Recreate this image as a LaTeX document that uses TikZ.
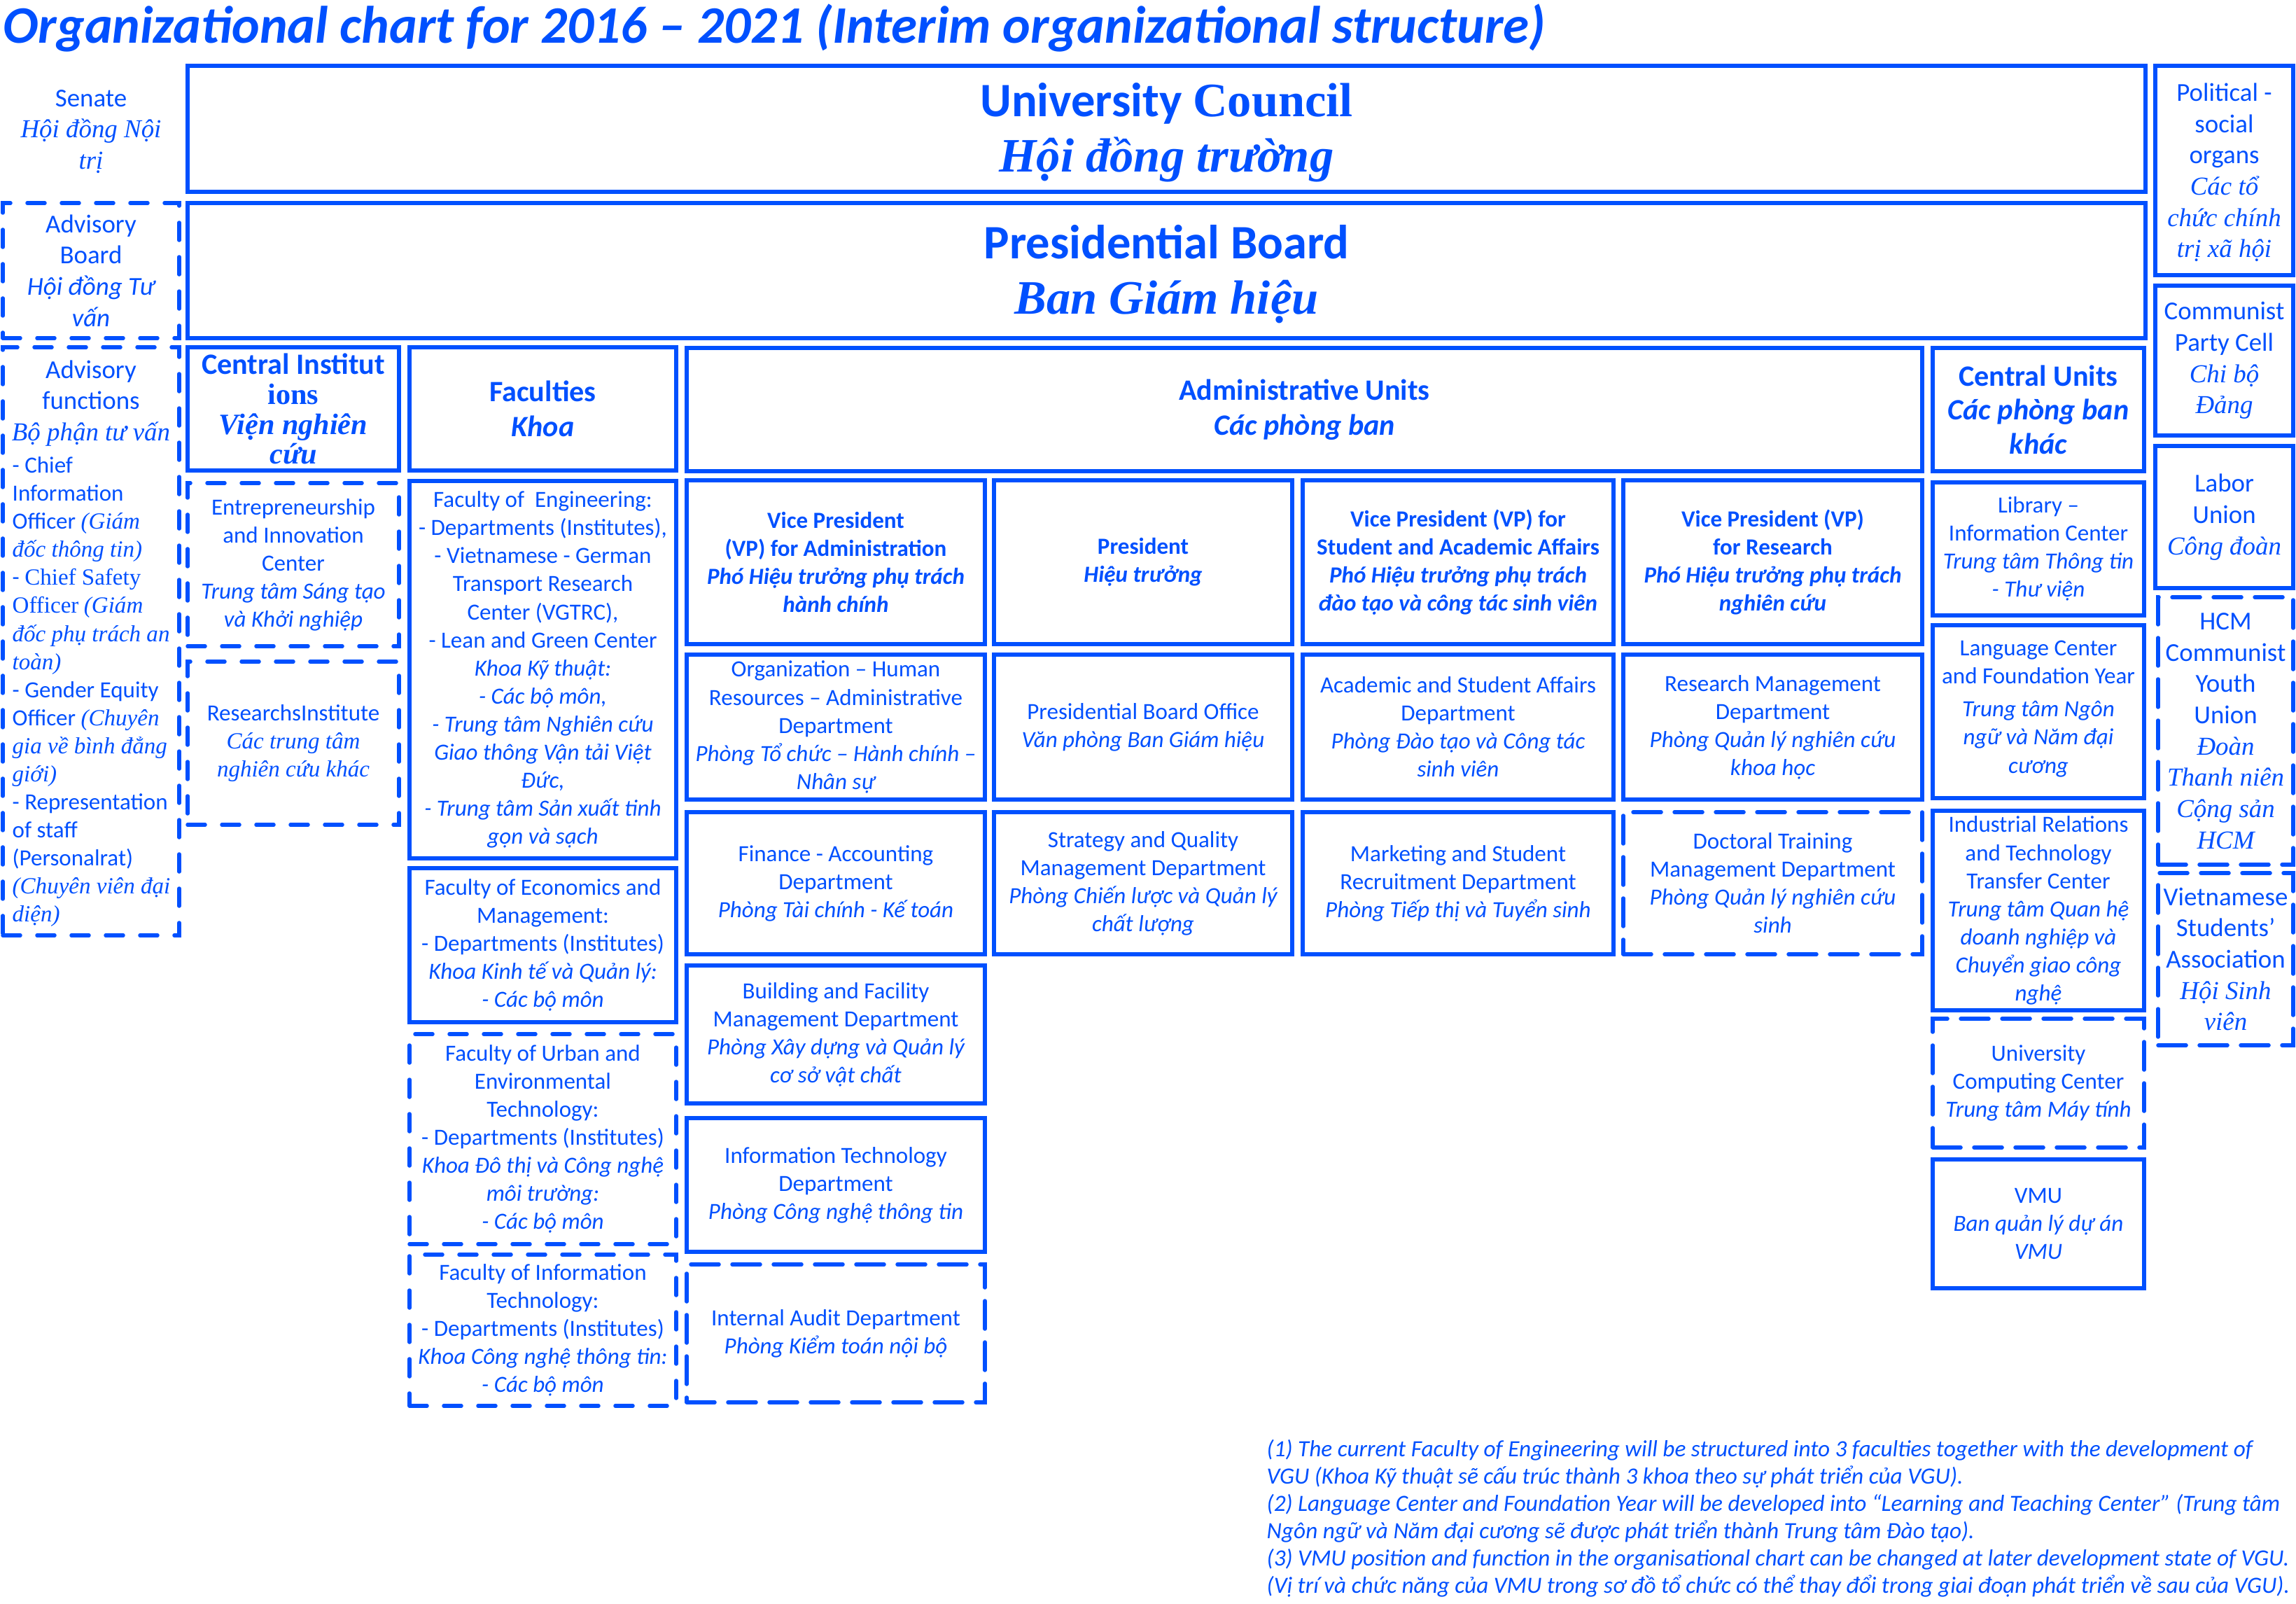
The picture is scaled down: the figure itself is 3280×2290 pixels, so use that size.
\documentclass[tikz,border=0pt]{standalone}
\usepackage{fontspec}
\setmainfont{Carlito}
\newfontfamily\tnr{Liberation Serif}
\usetikzlibrary{fit}
\definecolor{vb}{RGB}{0,80,255}
\newcommand\itl[1]{{\itshape #1}}
\newcommand\tni[1]{{\tnr\itshape #1}}
\newcommand\tnu[1]{{\tnr #1}}
\tikzset{
  sbox/.style={draw=vb, line width=0.55mm, inner sep=0pt},
  dboxa/.style={draw=vb, line width=0.55mm, inner sep=0pt, dash pattern=on 2.5mm off 2.4mm, line cap=round},
  dboxb/.style={draw=vb, line width=0.55mm, inner sep=0pt, dash pattern=on 4.0mm off 1.9mm, line cap=round},
  tx/.style={text=vb, align=center, inner sep=0pt, font=\fontsize{9.4}{11.4}\selectfont},
  txb/.style={tx, font=\fontsize{9.4}{11.4}\selectfont\bfseries},
  txm/.style={text=vb, align=center, inner sep=0pt, font=\fontsize{10.5}{12.7}\selectfont},
  txh/.style={text=vb, align=center, inner sep=0pt, font=\fontsize{12}{14.2}\selectfont\bfseries},
  txl/.style={text=vb, align=center, inner sep=0pt, font=\fontsize{19.5}{22.6}\selectfont\bfseries},
  fn/.style={text=vb, anchor=base west, inner sep=0pt, font=\fontsize{9.45}{11.2}\selectfont\itshape},
}
\begin{document}
\begin{tikzpicture}[x=0.1mm, y=-0.1mm]
\useasboundingbox (0,0) rectangle (3280,2290);

% title
\node[anchor=base west, inner sep=0pt, text=vb, font=\fontsize{21.4}{24}\selectfont\bfseries\itshape] (title) at (4,62)
  {Organizational chart for 2016 – 2021 (Interim organizational structure)};

% top rows
\node[txm] (senate) at (130,188) {Senate\\\tni{Hội đồng Nội}\\\tni{trị}};
\node[sbox, fit={(268,94) (3065,274)}] (uc) {};
\node[txl] (uc-t) at ([yshift=-0.5mm]uc.center) {University \tnu{Council}\\\tni{Hội đồng trường}};
\node[sbox, fit={(268,290) (3065,483)}] (pb) {};
\node[txl] (pb-t) at ([yshift=-0.5mm]pb.center) {Presidential Board\\\tni{Ban Giám hiệu}};
\node[dboxa, fit={(4,290) (256,483)}] (ab) {};
\node[txm] (ab-t) at (ab.center) {Advisory\\Board\\\itl{Hội đồng Tư}\\\itl{vấn}};

% advisory functions
\node[dboxa, fit={(4,496) (256,1336)}] (af) {};
\node[txm, anchor=north] (af-h) at (130,514) {Advisory\\functions\\\tni{Bộ phận tư vấn}};
\node[tx, align=left, anchor=north west] (af-b) at (17,652) {- Chief\\
Information\\
Officer \tni{(Giám}\\
\tni{đốc thông tin)}\\
- \tnu{Chief Safety}\\
\tnu{Officer} \tni{(Giám}\\
\tni{đốc phụ trách an}\\
\tni{toàn)}\\
- Gender Equity\\
Officer \tni{(Chuyên}\\
\tni{gia về bình đẳng}\\
\tni{giới)}\\
- Representation\\
of staff\\
(Personalrat)\\
\tni{(Chuyên viên đại}\\
\tni{diện)}};

% central institutions
\node[sbox, fit={(268,496) (570,672)}] (ci) {};
\node[txh, font=\fontsize{12}{12.2}\selectfont\bfseries] (ci-t) at (ci.center) {Central Institut\\\tnu{ions}\\\tni{Viện nghiên}\\\tni{cứu}};
\node[dboxa, fit={(268,690) (570,923)}] (ei) {};
\node[tx] (ei-t) at (ei.center) {Entrepreneurship\\and Innovation\\Center\\\itl{Trung tâm Sáng tạo}\\\itl{và Khởi nghiệp}};
\node[dboxa, fit={(268,945) (570,1178)}] (ri) {};
\node[tx] (ri-t) at (ri.center) {ResearchsInstitute\\\tni{Các trung tâm}\\\tni{nghiên cứu khác}};

% faculties
\node[sbox, fit={(585,496) (966,672)}] (fa) {};
\node[txh] (fa-t) at (fa.center) {Faculties\\\itl{Khoa}};
\node[sbox, fit={(585,687) (966,1226)}] (fe) {};
\node[tx] (fe-t) at (fe.center) {Faculty of~~Engineering:\\- Departments (Institutes),\\- Vietnamese - German\\Transport Research\\Center (VGTRC),\\- Lean and Green Center\\\itl{Khoa Kỹ thuật:}\\\itl{- Các bộ môn,}\\\itl{- Trung tâm Nghiên cứu}\\\itl{Giao thông Vận tải Việt}\\\itl{Đức,}\\\itl{- Trung tâm Sản xuất tinh}\\\itl{gọn và sạch}};
\node[sbox, fit={(585,1240) (966,1460)}] (fm) {};
\node[tx] (fm-t) at (fm.center) {Faculty of Economics and\\Management:\\- Departments (Institutes)\\\itl{Khoa Kinh tế và Quản lý:}\\\itl{- Các bộ môn}};
\node[dboxa, fit={(585,1477) (966,1777)}] (fu) {};
\node[tx] (fu-t) at (fu.center) {Faculty of Urban and\\Environmental\\Technology:\\- Departments (Institutes)\\\itl{Khoa Đô thị và Công nghệ}\\\itl{môi trường:}\\\itl{- Các bộ môn}};
\node[dboxa, fit={(585,1792) (966,2008)}] (fi) {};
\node[tx] (fi-t) at (fi.center) {Faculty of Information\\Technology:\\- Departments (Institutes)\\\itl{Khoa Công nghệ thông tin:}\\\itl{- Các bộ môn}};

% administrative units
\node[sbox, fit={(981,497) (2746,673)}] (au) {};
\node[txh] (au-t) at (au.center) {Administrative Units\\\itl{Các phòng ban}};
\node[sbox, fit={(981,686) (1407,920)}] (vpa) {};
\node[txb] (vpa-t) at (vpa.center) {Vice President\\(VP) for Administration\\\itl{Phó Hiệu trưởng phụ trách}\\\itl{hành chính}};
\node[sbox, fit={(1420,686) (1846,920)}] (pr) {};
\node[txb] (pr-t) at (pr.center) {President\\\itl{Hiệu trưởng}};
\node[sbox, fit={(1861,686) (2305,920)}] (vps) {};
\node[txb] (vps-t) at (vps.center) {Vice President (VP) for\\Student and Academic Affairs\\\itl{Phó Hiệu trưởng phụ trách}\\\itl{đào tạo và công tác sinh viên}};
\node[sbox, fit={(2319,686) (2746,920)}] (vpr) {};
\node[txb] (vpr-t) at (vpr.center) {Vice President (VP)\\for Research\\\itl{Phó Hiệu trưởng phụ trách}\\\itl{nghiên cứu}};

\node[sbox, fit={(981,935) (1407,1142)}] (ohr) {};
\node[tx] (ohr-t) at (ohr.center) {Organization – Human\\Resources – Administrative\\Department\\\itl{Phòng Tổ chức – Hành chính –}\\\itl{Nhân sự}};
\node[sbox, fit={(1420,935) (1846,1142)}] (pbo) {};
\node[tx] (pbo-t) at (pbo.center) {Presidential Board Office\\\itl{Văn phòng Ban Giám hiệu}};
\node[sbox, fit={(1861,935) (2305,1142)}] (asa) {};
\node[tx] (asa-t) at (asa.center) {Academic and Student Affairs\\Department\\\itl{Phòng Đào tạo và Công tác}\\\itl{sinh viên}};
\node[sbox, fit={(2319,935) (2746,1142)}] (rmd) {};
\node[tx] (rmd-t) at (rmd.center) {Research Management\\Department\\\itl{Phòng Quản lý nghiên cứu}\\\itl{khoa học}};

\node[sbox, fit={(981,1160) (1407,1363)}] (fin) {};
\node[tx] (fin-t) at (fin.center) {Finance - Accounting\\Department\\\itl{Phòng Tài chính - Kế toán}};
\node[sbox, fit={(1420,1160) (1846,1363)}] (sqm) {};
\node[tx] (sqm-t) at (sqm.center) {Strategy and Quality\\Management Department\\\itl{Phòng Chiến lược và Quản lý}\\\itl{chất lượng}};
\node[sbox, fit={(1861,1160) (2305,1363)}] (msr) {};
\node[tx] (msr-t) at (msr.center) {Marketing and Student\\Recruitment Department\\\itl{Phòng Tiếp thị và Tuyển sinh}};
\node[dboxb, fit={(2319,1160) (2746,1363)}] (dtm) {};
\node[tx] (dtm-t) at (dtm.center) {Doctoral Training\\Management Department\\\itl{Phòng Quản lý nghiên cứu}\\\itl{sinh}};

\node[sbox, fit={(981,1379) (1407,1576)}] (bfm) {};
\node[tx] (bfm-t) at (bfm.center) {Building and Facility\\Management Department\\\itl{Phòng Xây dựng và Quản lý}\\\itl{cơ sở vật chất}};
\node[sbox, fit={(981,1597) (1407,1788)}] (itd) {};
\node[tx] (itd-t) at (itd.center) {Information Technology\\Department\\\itl{Phòng Công nghệ thông tin}};
\node[dboxb, fit={(981,1806) (1407,2003)}] (iad) {};
\node[tx] (iad-t) at (iad.center) {Internal Audit Department\\\itl{Phòng Kiểm toán nội bộ}};

% central units
\node[sbox, fit={(2761,497) (3063,673)}] (cu) {};
\node[txh, font=\fontsize{12}{13.8}\selectfont\bfseries] (cu-t) at (cu.center) {Central Units\\\itl{Các phòng ban}\\\itl{khác}};
\node[sbox, fit={(2761,689) (3063,879)}] (lib) {};
\node[tx] (lib-t) at (lib.center) {Library –\\Information Center\\\itl{Trung tâm Thông tin}\\\itl{- Thư viện}};
\node[sbox, fit={(2761,893) (3063,1140)}] (lcf) {};
\node[tx] (lcf-t) at ([yshift=0.4mm]lcf.center) {Language Center\\and Foundation Year\\[2pt]\itl{Trung tâm Ngôn}\\\itl{ngữ và Năm đại}\\\itl{cương}};
\node[sbox, fit={(2761,1158) (3063,1443)}] (irt) {};
\node[tx] (irt-t) at (irt.center) {Industrial Relations\\and Technology\\Transfer Center\\\itl{Trung tâm Quan hệ}\\\itl{doanh nghiệp và}\\\itl{Chuyển giao công}\\\itl{nghệ}};
\node[dboxb, fit={(2761,1455) (3063,1639)}] (ucc) {};
\node[tx] (ucc-t) at (ucc.center) {University\\Computing Center\\\itl{Trung tâm Máy tính}};
\node[sbox, fit={(2761,1656) (3063,1840)}] (vmu) {};
\node[tx] (vmu-t) at (vmu.center) {VMU\\\itl{Ban quản lý dự án}\\\itl{VMU}};

% right column
\node[sbox, fit={(3079,94) (3276,393)}] (pso) {};
\node[txm] (pso-t) at ([yshift=-0.3mm]pso.center) {Political -\\social\\organs\\\tni{Các tổ}\\\tni{chức chính}\\\tni{trị xã hội}};
\node[sbox, fit={(3079,408) (3276,622)}] (cpc) {};
\node[txm] (cpc-t) at (cpc.center) {Communist\\Party Cell\\\tni{Chi bộ}\\\tni{Đảng}};
\node[sbox, fit={(3079,637) (3276,840)}] (lu) {};
\node[txm] (lu-t) at (lu.center) {Labor\\Union\\\tni{Công đoàn}};
\node[dboxb, fit={(3083,853) (3276,1235)}] (hcm) {};
\node[txm] (hcm-t) at (hcm.center) {HCM\\Communist\\Youth\\Union\\\tni{Đoàn}\\\tni{Thanh niên}\\\tni{Cộng sản}\\\tni{HCM}};
\node[dboxb, fit={(3083,1247) (3276,1493)}] (vsa) {};
\node[txm] (vsa-t) at (vsa.center) {Vietnamese\\Students’\\Association\\\tni{Hội Sinh}\\\tni{viên}};

% footnotes
\node[fn] (fn1) at (1809,2080) {(1) The current Faculty of Engineering will be structured into 3 faculties together with the development of};
\node[fn] (fn2) at (1809,2119) {VGU (Khoa Kỹ thuật sẽ cấu trúc thành 3 khoa theo sự phát triển của VGU).};
\node[fn] (fn3) at (1809,2158) {(2) Language Center and Foundation Year will be developed into “Learning and Teaching Center” (Trung tâm};
\node[fn] (fn4) at (1809,2197) {Ngôn ngữ và Năm đại cương sẽ được phát triển thành Trung tâm Đào tạo).};
\node[fn] (fn5) at (1809,2236) {(3) VMU position and function in the organisational chart can be changed at later development state of VGU.};
\node[fn] (fn6) at (1809,2275) {(Vị trí và chức năng của VMU trong sơ đồ tổ chức có thể thay đổi trong giai đoạn phát triển về sau của VGU).};
\end{tikzpicture}
\end{document}
